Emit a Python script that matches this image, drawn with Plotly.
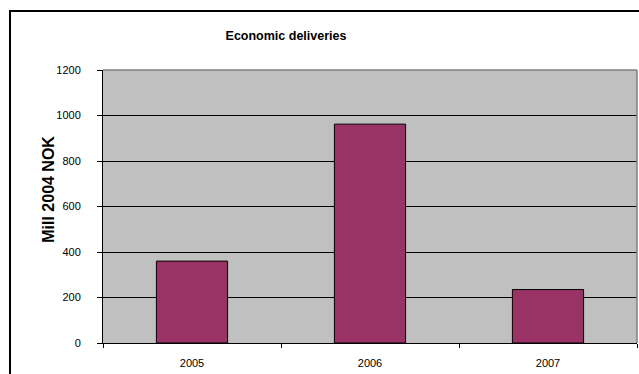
import plotly.graph_objects as go

years = ["2005", "2006", "2007"]
values = [360, 962, 235]
y_ticks = [0, 200, 400, 600, 800, 1000, 1200]

W, H = 639, 374
ML, MR, MT, MB = 103, 2, 70, 30.5
pw = W - ML - MR
ph = H - MT - MB

fig = go.Figure()
fig.add_trace(go.Bar(
    x=years, y=values, width=0.4,
    marker=dict(color="#993366", line=dict(color="#000000", width=1)),
))

font_fam = "Liberation Sans Narrow, Arial Narrow, Liberation Sans, Arial"

def px_x(px):
    return (px - ML) / pw

def px_y(py):
    return (H - MB - py) / ph

fig.update_layout(
    width=W, height=H,
    margin=dict(l=ML, r=MR, t=MT, b=MB, autoexpand=False),
    paper_bgcolor="white",
    plot_bgcolor="#C0C0C0",
    showlegend=False,
    bargap=0.6,
    title=dict(text="<b>Economic deliveries</b>", x=px_x(286), xanchor="center",
               xref="paper", y=1 - 36 / H, yanchor="middle",
               font=dict(family=font_fam, size=12.5, color="black")),
    xaxis=dict(
        type="category", showgrid=False, showline=True, linecolor="black", linewidth=1,
        ticks="outside", ticklen=4, tickcolor="black", tickson="boundaries",
        tickfont=dict(family=font_fam, size=11, color="black"),
        ticklabelstandoff=10, automargin=False,
    ),
    yaxis=dict(
        range=[0, 1200], tickvals=y_ticks, ticktext=[str(v) for v in y_ticks],
        showgrid=True, gridcolor="black", gridwidth=1,
        showline=True, linecolor="black", linewidth=1,
        ticks="outside", ticklen=5, tickcolor="black",
        tickfont=dict(family=font_fam, size=11, color="black"),
        ticklabelstandoff=14, automargin=False,
        zeroline=False,
    ),
)

# y-axis title
fig.add_annotation(text="<b>Mill 2004 NOK</b>", textangle=-90, showarrow=False,
                   xref="paper", yref="paper", x=px_x(49), y=px_y(190),
                   xanchor="center", yanchor="middle",
                   font=dict(family="Liberation Sans, Arial", size=16, color="black"))

# plot area top/right border (grey)
fig.add_shape(type="line", xref="paper", yref="paper", x0=0, x1=1, y0=1, y1=1,
              line=dict(color="#808080", width=1.5))
fig.add_shape(type="line", xref="paper", yref="paper", x0=1, x1=1, y0=0, y1=1,
              line=dict(color="#808080", width=1.5))
# outer chart border
fig.add_shape(type="rect", xref="paper", yref="paper",
              x0=px_x(10), x1=px_x(W + 20), y0=px_y(H + 20), y1=px_y(11),
              line=dict(color="black", width=2), fillcolor="rgba(0,0,0,0)", layer="above")

fig.write_html("out.html", config={"displayModeBar": False},
               post_script="document.body.style.margin='0';document.body.style.padding='0';")
